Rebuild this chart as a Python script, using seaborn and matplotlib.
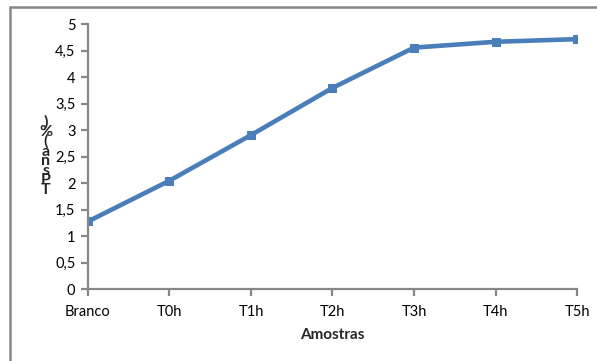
import matplotlib
matplotlib.use("Agg")
import matplotlib.pyplot as plt
import matplotlib.patches as mpatches
import pandas as pd
import seaborn as sns

# Data
amostras = ["Branco", "T0h", "T1h", "T2h", "T3h", "T4h", "T5h"]
tpsna = [1.28, 2.05, 2.91, 3.80, 4.56, 4.67, 4.72]

df = pd.DataFrame({"Amostras": amostras, "TPsna": tpsna})

sns.set_style("white")
plt.rcParams["font.family"] = ["Lato", "DejaVu Sans"]

grey = "#878787"
blue = "#4A7EBB"

fig = plt.figure(figsize=(5.97, 3.61), dpi=100)
ax = fig.add_axes([0.1474, 0.1986, 0.8191, 0.7341])

sns.lineplot(
    data=df,
    x="Amostras",
    y="TPsna",
    ax=ax,
    color=blue,
    linewidth=3.3,
    marker="s",
    markersize=5.5,
    markeredgecolor=blue,
    sort=False,
)

ax.set_xlim(0, len(amostras) - 1)
ax.set_ylim(0, 5)
ax.set_yticks([0, 0.5, 1, 1.5, 2, 2.5, 3, 3.5, 4, 4.5, 5])
ax.set_yticklabels(["0", "0,5", "1", "1,5", "2", "2,5", "3", "3,5", "4", "4,5", "5"])

for side in ["top", "right"]:
    ax.spines[side].set_visible(False)
for side in ["left", "bottom"]:
    ax.spines[side].set_color(grey)
    ax.spines[side].set_linewidth(1.6)

ax.tick_params(
    axis="both", direction="out", length=5, width=1.6, color=grey,
    labelsize=10.5, labelcolor="black", left=True, bottom=True,
)
ax.tick_params(axis="x", pad=6)
ax.tick_params(axis="y", pad=4)
ax.set_xlabel("Amostras", fontsize=11, fontweight="bold", labelpad=7)
ax.set_ylabel("")

# stacked, upright y-axis title as in the original
fig.text(
    46 / 597, 1 - 156 / 361, "\n".join(reversed(list("TPsna(%)"))),
    ha="center", va="center", fontsize=11.5, fontweight="bold",
    linespacing=0.6,
)

# chart-area frame (only left and top edges fall inside the picture)
fig.patches.append(
    mpatches.Rectangle(
        (10 / 597, -0.05), 1.1, 1 - 7 / 361 + 0.05,
        transform=fig.transFigure, fill=False, edgecolor=grey, linewidth=1.8,
    )
)

fig.savefig("out.png", dpi=100)
